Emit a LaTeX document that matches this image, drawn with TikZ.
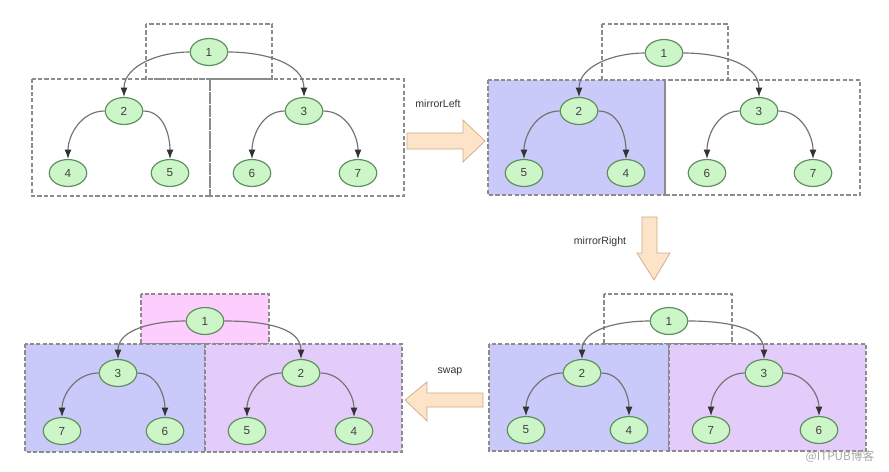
\documentclass[tikz,border=0pt]{standalone}
\usepackage{fontspec}
\setmainfont{Liberation Sans}
\newfontfamily\cjkfont{Noto Sans CJK SC}
\usetikzlibrary{shapes.geometric,arrows.meta}

\definecolor{leaf}{HTML}{CCF5C8}
\definecolor{leafline}{HTML}{5F8F5F}
\definecolor{boxblue}{HTML}{C9C9FA}
\definecolor{boxviolet}{HTML}{E3CCF9}
\definecolor{boxpink}{HTML}{FDCDFD}
\definecolor{peach}{HTML}{FDE3C8}
\definecolor{peachline}{HTML}{CFA987}

\tikzset{
  tnode/.style={ellipse,draw=leafline,fill=leaf,line width=1pt,minimum width=32pt,minimum height=23pt,inner sep=0pt,font=\fontsize{10}{11}\selectfont,text=black!75},
  edge/.style={draw=black!55,line width=1pt,-{Latex[length=8pt,width=6pt,color=black!80]}},
  dbox/.style={draw=black!45,line width=1pt,dash pattern=on 3.5pt off 2pt},
  fatarrow/.style={draw=peachline,fill=peach,line width=0.6pt},
  steplabel/.style={font=\fontsize{9}{10}\selectfont,text=black!80}
}

\begin{document}
\begin{tikzpicture}[x=0.03cm,y=-0.03cm]
        \useasboundingbox (0,0) rectangle (889,471);

        % boxes, top left
        \draw[dbox] (146,24) rectangle (272,79);
        \draw[dbox] (32,79) rectangle (210,196);
        \draw[dbox] (210,79) rectangle (404,196);
        % boxes, top right
        \draw[dbox] (602,24) rectangle (728,80);
        \draw[dbox,fill=boxblue] (488,80) rectangle (665,195);
        \draw[dbox] (665,80) rectangle (860,195);
        % boxes, bottom right
        \draw[dbox] (604,294) rectangle (732,344);
        \draw[dbox,fill=boxblue] (489,344) rectangle (669,451);
        \draw[dbox,fill=boxviolet] (669,344) rectangle (866,451);
        % boxes, bottom left
        \draw[dbox,fill=boxpink] (141,294) rectangle (269,344);
        \draw[dbox,fill=boxblue] (25,344) rectangle (205,452);
        \draw[dbox,fill=boxviolet] (205,344) rectangle (402,452);

        % top left tree
        \node[tnode] (a1) at (209,52) {1};
        \node[tnode] (a2) at (124,111) {2};
        \node[tnode] (a3) at (304,111) {3};
        \node[tnode] (a4) at (68,173) {4};
        \node[tnode] (a5) at (170,173) {5};
        \node[tnode] (a6) at (252,173) {6};
        \node[tnode] (a7) at (358,173) {7};
        \draw[edge] (a1.west) to[out=180,in=90] (a2.north);
        \draw[edge] (a1.east) to[out=0,in=90] (a3.north);
        \draw[edge] (a2.west) to[out=180,in=90] (a4.north);
        \draw[edge] (a2.east) to[out=0,in=90] (a5.north);
        \draw[edge] (a3.west) to[out=180,in=90] (a6.north);
        \draw[edge] (a3.east) to[out=0,in=90] (a7.north);

        % top right tree
        \node[tnode] (b1) at (664,53) {1};
        \node[tnode] (b2) at (579,111) {2};
        \node[tnode] (b3) at (759,111) {3};
        \node[tnode] (b5) at (524,173) {5};
        \node[tnode] (b4) at (626,173) {4};
        \node[tnode] (b6) at (707,173) {6};
        \node[tnode] (b7) at (813,173) {7};
        \draw[edge] (b1.west) to[out=180,in=90] (b2.north);
        \draw[edge] (b1.east) to[out=0,in=90] (b3.north);
        \draw[edge] (b2.west) to[out=180,in=90] (b5.north);
        \draw[edge] (b2.east) to[out=0,in=90] (b4.north);
        \draw[edge] (b3.west) to[out=180,in=90] (b6.north);
        \draw[edge] (b3.east) to[out=0,in=90] (b7.north);

        % bottom right tree
        \node[tnode] (c1) at (669,321) {1};
        \node[tnode] (c2) at (582,373) {2};
        \node[tnode] (c3) at (764,373) {3};
        \node[tnode] (c5) at (526,430) {5};
        \node[tnode] (c4) at (629,430) {4};
        \node[tnode] (c7) at (711,430) {7};
        \node[tnode] (c6) at (819,430) {6};
        \draw[edge] (c1.west) to[out=180,in=90] (c2.north);
        \draw[edge] (c1.east) to[out=0,in=90] (c3.north);
        \draw[edge] (c2.west) to[out=180,in=90] (c5.north);
        \draw[edge] (c2.east) to[out=0,in=90] (c4.north);
        \draw[edge] (c3.west) to[out=180,in=90] (c7.north);
        \draw[edge] (c3.east) to[out=0,in=90] (c6.north);

        % bottom left tree
        \node[tnode] (d1) at (205,321) {1};
        \node[tnode] (d3) at (118,373) {3};
        \node[tnode] (d2) at (301,373) {2};
        \node[tnode] (d7) at (62,431) {7};
        \node[tnode] (d6) at (165,431) {6};
        \node[tnode] (d5) at (247,431) {5};
        \node[tnode] (d4) at (354,431) {4};
        \draw[edge] (d1.west) to[out=180,in=90] (d3.north);
        \draw[edge] (d1.east) to[out=0,in=90] (d2.north);
        \draw[edge] (d3.west) to[out=180,in=90] (d7.north);
        \draw[edge] (d3.east) to[out=0,in=90] (d6.north);
        \draw[edge] (d2.west) to[out=180,in=90] (d5.north);
        \draw[edge] (d2.east) to[out=0,in=90] (d4.north);

        % big arrows between the steps
        \draw[fatarrow] (407,133) -- (463,133) -- (463,120) -- (485,141) -- (463,162) -- (463,149) -- (407,149) -- cycle;
        \node[steplabel] (lleft) at (438,104) {mirrorLeft};
        \draw[fatarrow] (642,217) -- (657,217) -- (657,253) -- (670,253) -- (654,280) -- (637,253) -- (642,253) -- cycle;
        \node[steplabel] (lright) at (600,242) {mirrorRight};
        \draw[fatarrow] (483,393) -- (427,393) -- (427,382) -- (405,400) -- (427,421) -- (427,407) -- (483,407) -- cycle;
        \node[steplabel] (lswap) at (450,372) {swap};

        \node[font=\cjkfont\fontsize{10}{11}\selectfont,text=black!35] (mark) at (840,457) {@ITPUB博客};
    \end{tikzpicture}
\end{document}
